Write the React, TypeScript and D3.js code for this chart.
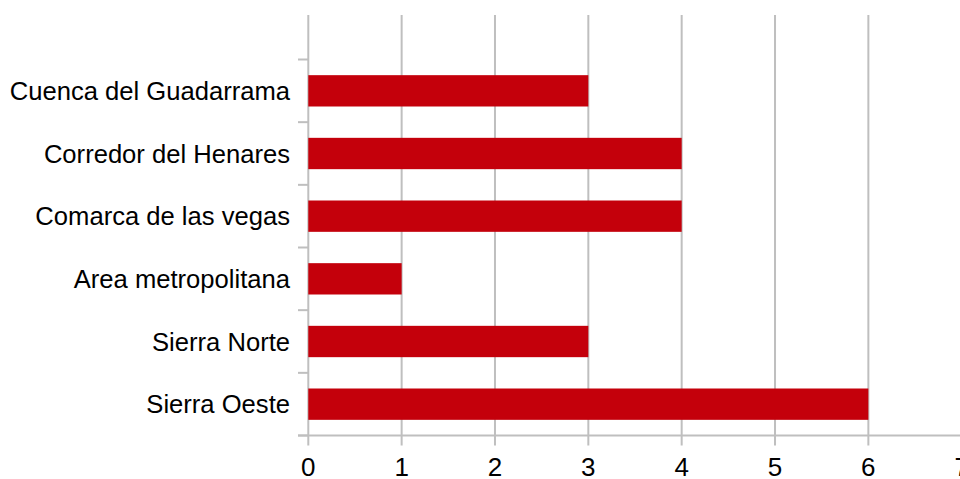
import React from "react";
import * as d3 from "d3";

const categories = [
  "Cuenca del Guadarrama",
  "Corredor del Henares",
  "Comarca de las vegas",
  "Area metropolitana",
  "Sierra Norte",
  "Sierra Oeste",
];
const values = [3, 4, 4, 1, 3, 6];
const xTicks = [0, 1, 2, 3, 4, 5, 6, 7];

export default function App() {
  const W = 960;
  const H = 479;
  const x = d3.scaleLinear().domain([0, 7]).range([308.3, 961.7]);
  const y = d3
    .scaleBand<string>()
    .domain(categories)
    .range([59.5, 435.5])
    .paddingInner(0.5)
    .paddingOuter(0.25);
  const gridTop = 15;
  const axisY = 435.5;
  const grid = "#BFBFBF";
  const font = "'Liberation Sans', Arial, sans-serif";
  const step = y.step();
  const catTicks = d3.range(categories.length + 1).map((i) => 59.5 + i * step);

  return (
    <svg
      width={W}
      height={H}
      style={{ position: "absolute", left: 0, top: 0, background: "#fff" }}
    >
      {xTicks.map((t) => (
        <line
          key={"g" + t}
          x1={x(t)}
          x2={x(t)}
          y1={gridTop}
          y2={axisY + 10}
          stroke={grid}
          strokeWidth={2}
        />
      ))}
      {catTicks.map((ty, i) => (
        <line
          key={"c" + i}
          x1={298}
          x2={x(0)}
          y1={ty}
          y2={ty}
          stroke={grid}
          strokeWidth={2}
        />
      ))}
      <line x1={298} x2={W} y1={axisY} y2={axisY} stroke={grid} strokeWidth={2} />
      {categories.map((c, i) => (
        <rect
          key={c}
          x={x(0)}
          y={y(c)}
          width={x(values[i]) - x(0)}
          height={y.bandwidth()}
          fill="#C4000B"
        />
      ))}
      {categories.map((c) => (
        <text
          key={"l" + c}
          x={290}
          y={(y(c) as number) + y.bandwidth() / 2}
          dy="0.36em"
          textAnchor="end"
          fontFamily={font}
          fontSize={25.6}
          fill="#000"
        >
          {c}
        </text>
      ))}
      {xTicks.map((t) => (
        <text
          key={"x" + t}
          x={x(t)}
          y={476}
          textAnchor="middle"
          fontFamily={font}
          fontSize={26}
          fill="#000"
        >
          {t}
        </text>
      ))}
    </svg>
  );
}
